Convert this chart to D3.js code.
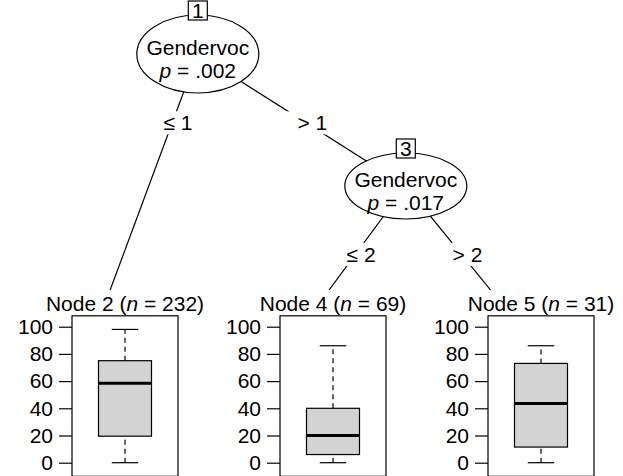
<!DOCTYPE html>
<html>
<head>
<meta charset="utf-8">
<script src="https://cdn.jsdelivr.net/npm/d3@7"></script>
<style>
  html, body { margin: 0; padding: 0; background: #fff; }
  svg { display: block; font-family: "Liberation Sans", Arial, sans-serif; }
</style>
</head>
<body>
<svg id="chart" width="623" height="476"></svg>
<script>
// Conditional inference tree: two splits on Gendervoc, three terminal boxplots.
const innerIds = [1, 3];
const innerVars = ["Gendervoc", "Gendervoc"];
const innerP = [".002", ".017"];
const innerLeafPos = [0.475, 1.475];   // horizontal position in leaf units
const innerDepth = [0, 1];

const edgeFrom = [1, 1, 3, 3];
const edgeTo = [2, 3, 4, 5];
const edgeLabels = ["≤ 1", "> 1", "≤ 2", "> 2"];

const terminalIds = [2, 4, 5];
const terminalN = [232, 69, 31];
const whiskerLow = [0, 0, 0];
const boxQ1 = [19.5, 6, 11.5];
const boxMedian = [58.5, 20, 43.5];
const boxQ3 = [75, 40, 73];
const whiskerHigh = [98, 86, 86];
const yTicks = [0, 20, 40, 60, 80, 100];

const svg = d3.select("#chart");
const FONT = 21;

// horizontal layout: leaves evenly spaced
const leafX = d3.scaleLinear().domain([0, 2]).range([99, 515]);
// vertical layout by depth (centre of inner nodes)
const depthY = d3.scaleOrdinal().domain([0, 1]).range([54, 186]);
const ellRx = 61, ellRy = [39, 33];
const panelTop = 290;       // top of the terminal viewport (title area)
const anchorY = 320;        // where edges aim inside the terminal viewport

// value scale for the boxplots; the frame runs from -10 to 108
const y = d3.scaleLinear().domain([0, 100]).range([462.7, 326.7]);
const frameLo = -10, frameHi = 108;

// node lookup
const nodes = new Map();
innerIds.forEach((id, i) => nodes.set(id, {
  id, inner: true, x: leafX(innerLeafPos[i]), y: depthY(innerDepth[i]), ry: ellRy[i],
  top: depthY(innerDepth[i]) - ellRy[i], bottom: depthY(innerDepth[i]) + ellRy[i]
}));
terminalIds.forEach((id, i) => nodes.set(id, {
  id, inner: false, x: leafX(i), y: anchorY, top: panelTop, i
}));

// edges first, so nodes and panels sit on top
const edgeG = svg.append("g");
edgeFrom.forEach((f, i) => {
  const a = nodes.get(f), b = nodes.get(edgeTo[i]);
  edgeG.append("line")
    .attr("x1", a.x).attr("y1", a.y).attr("x2", b.x).attr("y2", b.y)
    .attr("stroke", "#000").attr("stroke-width", 1.2);
});

// terminal panels
terminalIds.forEach((id, i) => {
  const cx = leafX(i);
  const left = cx - 27, right = cx + 79, mid = (left + right) / 2;
  const g = svg.append("g");
  g.append("rect").attr("x", cx - 90).attr("y", panelTop)
    .attr("width", 195).attr("height", 476 - panelTop).attr("fill", "#fff");

  const title = g.append("text").attr("x", mid).attr("y", 311)
    .attr("text-anchor", "middle").attr("font-size", FONT);
  title.append("tspan").text(`Node ${id} (`);
  title.append("tspan").attr("font-style", "italic").text("n");
  title.append("tspan").text(` = ${terminalN[i]})`);

  g.append("rect").attr("x", left).attr("y", y(frameHi))
    .attr("width", right - left).attr("height", y(frameLo) - y(frameHi))
    .attr("fill", "none").attr("stroke", "#000").attr("stroke-width", 1.2);

  const axis = d3.axisLeft(y).tickValues(yTicks).tickSize(13).tickPadding(6);
  const ax = g.append("g").attr("transform", `translate(${left},0)`).call(axis);
  ax.select(".domain").remove();
  ax.selectAll("line").attr("stroke", "#000").attr("stroke-width", 1.2);
  ax.selectAll("text").attr("font-size", FONT).attr("font-family", "Liberation Sans, Arial, sans-serif").attr("fill", "#000");

  const bw = (right - left) / 2, cw = bw / 2;
  // whiskers
  [[whiskerLow[i], boxQ1[i]], [boxQ3[i], whiskerHigh[i]]].forEach(([v0, v1]) => {
    g.append("line").attr("x1", mid).attr("x2", mid).attr("y1", y(v0)).attr("y2", y(v1))
      .attr("stroke", "#000").attr("stroke-width", 1.2).attr("stroke-dasharray", "5,4");
  });
  [whiskerLow[i], whiskerHigh[i]].forEach(v => {
    g.append("line").attr("x1", mid - cw / 2).attr("x2", mid + cw / 2)
      .attr("y1", y(v)).attr("y2", y(v)).attr("stroke", "#000").attr("stroke-width", 1.2);
  });
  g.append("rect").attr("x", mid - bw / 2).attr("y", y(boxQ3[i]))
    .attr("width", bw).attr("height", y(boxQ1[i]) - y(boxQ3[i]))
    .attr("fill", "#d3d3d3").attr("stroke", "#000").attr("stroke-width", 1.2);
  g.append("line").attr("x1", mid - bw / 2).attr("x2", mid + bw / 2)
    .attr("y1", y(boxMedian[i])).attr("y2", y(boxMedian[i]))
    .attr("stroke", "#000").attr("stroke-width", 3);
});

// split labels: placed halfway through the gap below the parent node
edgeFrom.forEach((f, i) => {
  const a = nodes.get(f);
  const kids = edgeFrom.map((p, k) => p === f ? nodes.get(edgeTo[k]) : null).filter(Boolean);
  const gapTop = a.bottom, gapBottom = d3.min(kids, k => k.top);
  const ly = (gapTop + gapBottom) / 2;
  const b = nodes.get(edgeTo[i]);
  const lx = a.x + (b.x - a.x) * (ly - a.y) / (b.y - a.y);
  const g = svg.append("g");
  const t = g.append("text").attr("x", lx).attr("y", ly).attr("dy", "0.35em")
    .attr("text-anchor", "middle").attr("font-size", FONT);
  t.append("tspan").attr("fill", "none").text("0");
  t.append("tspan").text(edgeLabels[i]);
  const bb = t.node().getBBox();
  g.insert("rect", "text").attr("x", bb.x).attr("y", bb.y)
    .attr("width", bb.width).attr("height", bb.height).attr("fill", "#fff");
});

// inner nodes: ellipse with variable and p-value, id box on top
innerIds.forEach((id, i) => {
  const n = nodes.get(id);
  const g = svg.append("g");
  g.append("ellipse").attr("cx", n.x).attr("cy", n.y).attr("rx", ellRx).attr("ry", n.ry)
    .attr("fill", "#fff").attr("stroke", "#000").attr("stroke-width", 1.2);
  g.append("text").attr("x", n.x).attr("y", n.y + 1).attr("text-anchor", "middle")
    .attr("font-size", FONT).text(innerVars[i]);
  const p = g.append("text").attr("x", n.x).attr("y", n.y + 24).attr("text-anchor", "middle")
    .attr("font-size", FONT);
  p.append("tspan").attr("font-style", "italic").text("p");
  p.append("tspan").text(` = ${innerP[i]}`);
  const bs = 19;
  g.append("rect").attr("x", n.x - bs / 2).attr("y", n.top - 14).attr("width", bs).attr("height", bs)
    .attr("fill", "#fff").attr("stroke", "#000").attr("stroke-width", 1.2);
  g.append("text").attr("x", n.x).attr("y", n.top - 14 + bs / 2).attr("dy", "0.36em")
    .attr("text-anchor", "middle").attr("font-size", FONT).text(id);
});
</script>
</body>
</html>
